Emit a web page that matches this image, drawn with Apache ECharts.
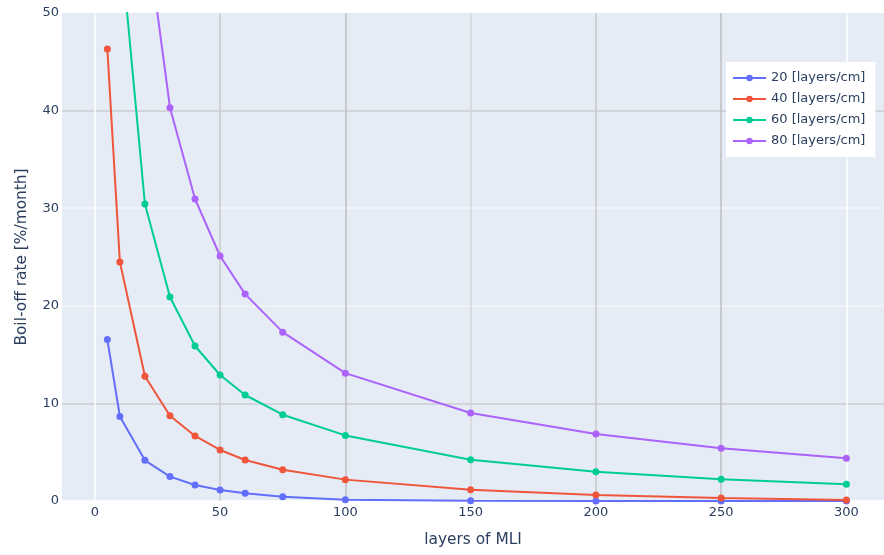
<!DOCTYPE html>
<html>
<head>
<meta charset="utf-8">
<script src="https://cdn.jsdelivr.net/npm/echarts@6/dist/echarts.min.js"></script>
<style>
html,body{margin:0;padding:0;background:#fff;}
#chart{width:884px;height:555px;}
</style>
</head>
<body>
<div id="chart"></div>
<script>
// Data
const layers = [5, 10, 20, 30, 40, 50, 60, 75, 100, 150, 200, 250, 300];
const seriesNames = ['20 [layers/cm]', '40 [layers/cm]', '60 [layers/cm]', '80 [layers/cm]'];
const rate20 = [16.55, 8.67, 4.17, 2.50, 1.64, 1.13, 0.79, 0.44, 0.14, 0.03, 0.01, 0.005, 0.003];
const rate40 = [46.3, 24.5, 12.78, 8.74, 6.66, 5.23, 4.20, 3.21, 2.19, 1.16, 0.61, 0.31, 0.10];
const rate60 = [105, 58, 30.43, 20.9, 15.88, 12.91, 10.86, 8.84, 6.72, 4.23, 3.00, 2.22, 1.71];
const rate80 = [200, 112, 59.6, 40.3, 30.94, 25.1, 21.2, 17.3, 13.1, 9.02, 6.86, 5.40, 4.37];
const xTitle = 'layers of MLI';
const yTitle = 'Boil-off rate [%/month]';

const colors = ['#636efa', '#EF553B', '#00cc96', '#ab63fa'];
const allRates = [rate20, rate40, rate60, rate80];
const font = '"DejaVu Sans", Verdana, sans-serif';
const textColor = '#2a3f5f';

const chart = echarts.init(document.getElementById('chart'), null, {renderer: 'canvas'});
const option = {
  animation: false,
  color: colors,
  textStyle: {fontFamily: font},
  grid: {
    left: 62, top: 13, right: 0, bottom: 54,
    show: true, backgroundColor: '#E5ECF6', borderWidth: 0,
    containLabel: false
  },
  legend: {
    orient: 'vertical',
    left: 726, top: 62,
    backgroundColor: '#ffffff',
    padding: [9, 10, 9, 6],
    itemWidth: 33, itemHeight: 8, itemGap: 7,
    textStyle: {color: textColor, fontSize: 13, fontFamily: font, lineHeight: 14},
    data: seriesNames
  },
  xAxis: {
    type: 'value',
    min: -13.1, max: 315,
    splitNumber: 6,
    name: xTitle,
    nameLocation: 'middle',
    nameGap: 31,
    nameTextStyle: {color: textColor, fontSize: 15.4, fontFamily: font},
    axisLine: {show: false},
    axisTick: {show: false},
    axisLabel: {color: textColor, fontSize: 13, margin: 5, showMinLabel: false, showMaxLabel: false, fontFamily: font},
    splitLine: {
      show: true,
      lineStyle: {
        width: 1.5,
        color: ['rgba(0,0,0,0)', '#ffffff', '#c9cacc', '#bebfc2', '#d5d7da', '#c7c8cb', '#bebfc2', '#ffffff', 'rgba(0,0,0,0)']
      }
    }
  },
  yAxis: {
    type: 'value',
    min: 0, max: 50, interval: 10,
    name: yTitle,
    nameLocation: 'middle',
    nameGap: 33,
    nameTextStyle: {color: textColor, fontSize: 15.4, fontFamily: font},
    axisLine: {show: false},
    axisTick: {show: false},
    axisLabel: {color: textColor, fontSize: 13, margin: 3, fontFamily: font},
    splitLine: {
      show: true,
      lineStyle: {
        width: 1.5,
        color: ['#ffffff', '#cccdcf', '#f4f6f9', '#f4f6f9', '#cccdcf', 'rgba(0,0,0,0)']
      }
    }
  },
  series: allRates.map((vals, i) => ({
    name: seriesNames[i],
    type: 'line',
    data: layers.map((x, j) => [x, vals[j]]),
    symbol: 'circle',
    symbolSize: 7,
    showSymbol: true,
    clip: true,
    lineStyle: {width: 2, color: colors[i]},
    itemStyle: {color: colors[i]}
  }))
};
chart.setOption(option);
</script>
</body>
</html>
